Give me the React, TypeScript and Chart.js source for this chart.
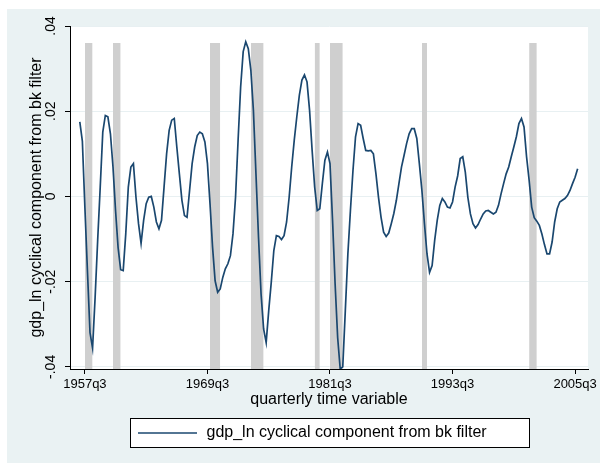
import React, { useEffect, useRef } from "react";
import { Chart, registerables } from "chart.js";

Chart.register(...registerables);

// ---------- data ----------
const startQuarter = "1957q1";

// gdp_ln cyclical component from bk filter, quarterly from 1957q1 to 2005q4
const gdpCycle = [
  0.0175, 0.013, -0.0027, -0.0176, -0.032, -0.0356, -0.0237, -0.0103, 0.0022, 0.0151,
  0.019, 0.0187, 0.0147, 0.0069, -0.0033, -0.012, -0.0172, -0.0174, -0.0088, 0.0022,
  0.0069, 0.0077, -0.0002, -0.0064, -0.011, -0.0056, -0.0017, -0.0002, 0.0, -0.0025,
  -0.006, -0.0076, -0.0056, 0.0022, 0.01, 0.0155, 0.0179, 0.0183, 0.0116, 0.0053,
  -0.0009, -0.0045, -0.0049, 0.0014, 0.0077, 0.0116, 0.0143, 0.0151, 0.0147, 0.0128,
  0.0077, -0.0017, -0.0119, -0.0198, -0.0225, -0.0217, -0.019, -0.017, -0.0158, -0.0139,
  -0.0088, -0.0002, 0.0132, 0.0257, 0.034, 0.0363, 0.0347, 0.0296, 0.0202, 0.0053,
  -0.0096, -0.0229, -0.0311, -0.0343, -0.0268, -0.0201, -0.0127, -0.0092, -0.0094, -0.0101,
  -0.0092, -0.006, -0.0002, 0.0069, 0.0132, 0.0187, 0.0238, 0.0273, 0.0285, 0.0269,
  0.0202, 0.0108, 0.0022, -0.0033, -0.0029, 0.003, 0.0085, 0.0104, 0.0077, -0.0056,
  -0.0205, -0.0331, -0.0405, -0.04, -0.0268, -0.0135, -0.0033, 0.0061, 0.014, 0.0171,
  0.0167, 0.0136, 0.0108, 0.0107, 0.0108, 0.01, 0.0053, -0.0002, -0.0049, -0.0084,
  -0.0094, -0.0086, -0.0064, -0.004, -0.0009, 0.003, 0.0069, 0.0096, 0.0124, 0.0147,
  0.0159, 0.0159, 0.0136, 0.0077, 0.0014, -0.0064, -0.0135, -0.0178, -0.0162, -0.0103,
  -0.0056, -0.0021, -0.0005, -0.0013, -0.0025, -0.0027, -0.0013, 0.0022, 0.0048, 0.0089,
  0.0093, 0.0057, -0.0002, -0.0041, -0.0064, -0.0074, -0.0066, -0.0053, -0.0041, -0.0034,
  -0.0033, -0.0037, -0.0041, -0.0037, -0.0021, 0.0006, 0.003, 0.0053, 0.0069, 0.0093,
  0.0116, 0.014, 0.0171, 0.0183, 0.0163, 0.0093, 0.0038, -0.0025, -0.005, -0.0058,
  -0.0068, -0.0088, -0.0113, -0.0135, -0.0135, -0.0107, -0.006, -0.0029, -0.0013, -0.0009,
  -0.0005, 0.0002, 0.0014, 0.003, 0.0045, 0.0065,
];

// NBER recessions (peak to trough quarter)
const recessionStarts = ["1957q3", "1960q2", "1969q4", "1973q4", "1980q1", "1981q3", "1990q3", "2001q1"];
const recessionEnds = ["1958q2", "1961q1", "1970q4", "1975q1", "1980q3", "1982q4", "1991q1", "2001q4"];
const recessionTop = 0.036;

const xTickLabels = ["1957q3", "1969q3", "1981q3", "1993q3", "2005q3"];
const xRangeQuarters = ["1956q1", "2006q4"];
const yTickValues = [0.04, 0.02, 0, -0.02, -0.04];
const yTickLabels = [".04", ".02", "0", "-.02", "-.04"];
const yMin = -0.0405;
const yMax = 0.04;

const seriesLabel = "gdp_ln cyclical component from bk filter";
const xTitle = "quarterly time variable";
const yTitle = "gdp_ln cyclical component from bk filter";

// ---------- helpers ----------
function parseQ(s: string): number {
  const [y, q] = s.split("q").map(Number);
  return (y - 1960) * 4 + (q - 1);
}

const FONT = '"Liberation Sans", Arial, Helvetica, sans-serif';
const NAVY = "#1a476f";
const BG = "rgb(234,242,243)";

export default function App() {
  const canvasRef = useRef<HTMLCanvasElement | null>(null);

  useEffect(() => {
    if (!canvasRef.current) return;
    const t0 = parseQ(startQuarter);
    const lineData = gdpCycle.map((v, i) => ({ x: t0 + i, y: v }));

    const recData: { x: number; y: number | null }[] = [];
    recessionStarts.forEach((s, i) => {
      const a = parseQ(s);
      const b = parseQ(recessionEnds[i]);
      recData.push({ x: a, y: recessionTop });
      recData.push({ x: b, y: recessionTop });
      recData.push({ x: b + 0.5, y: null });
    });

    const stylePlugin = {
      id: "stataStyle",
      beforeDraw(chart: any) {
        const { ctx, chartArea, width, height } = chart;
        ctx.save();
        ctx.fillStyle = BG;
        ctx.fillRect(0, 0, width, height);
        ctx.fillStyle = "#ffffff";
        ctx.fillRect(chartArea.left, chartArea.top, chartArea.right - chartArea.left, chartArea.bottom - chartArea.top);
        ctx.restore();
      },
      afterDraw(chart: any) {
        const { ctx, chartArea } = chart;
        const ys = chart.scales.y;
        ctx.save();
        // rotated y tick labels
        ctx.fillStyle = "#000";
        ctx.font = `14px ${FONT}`;
        ctx.textAlign = "center";
        ctx.textBaseline = "middle";
        yTickValues.forEach((v, i) => {
          const py = ys.getPixelForValue(v);
          ctx.save();
          ctx.translate(chartArea.left - 19, py);
          ctx.rotate(-Math.PI / 2);
          ctx.fillText(yTickLabels[i], 0, 0);
          ctx.restore();
        });
        // legend
        const bw = 399;
        const bh = 29;
        const cx = (chartArea.left + chartArea.right) / 2;
        const bx = Math.round(cx - bw / 2) + 0.5;
        const by = Math.round(chartArea.bottom + 49) + 0.5;
        ctx.fillStyle = "#ffffff";
        ctx.fillRect(bx, by, bw, bh);
        ctx.strokeStyle = "#000";
        ctx.lineWidth = 1;
        ctx.strokeRect(bx, by, bw, bh);
        const my = by + bh / 2;
        ctx.strokeStyle = NAVY;
        ctx.lineWidth = 1.7;
        ctx.beginPath();
        ctx.moveTo(bx + 7.5, my);
        ctx.lineTo(bx + 66.5, my);
        ctx.stroke();
        ctx.fillStyle = "#000";
        ctx.font = `16px ${FONT}`;
        ctx.textAlign = "left";
        ctx.textBaseline = "middle";
        ctx.fillText(seriesLabel, bx + 76, my);
        ctx.restore();
      },
    };

    const chart = new Chart(canvasRef.current, {
      type: "line",
      data: {
        datasets: [
          {
            label: seriesLabel,
            data: lineData,
            borderColor: NAVY,
            borderWidth: 1.7,
            pointRadius: 0,
            fill: false,
            tension: 0,
          },
          {
            label: "recessions",
            data: recData as any,
            borderWidth: 0,
            borderColor: "rgba(0,0,0,0)",
            backgroundColor: "rgb(207,207,207)",
            pointRadius: 0,
            fill: "start",
            spanGaps: false,
            tension: 0,
          },
        ],
      },
      options: {
        animation: false,
        responsive: true,
        maintainAspectRatio: false,
        events: [],
        layout: {
          autoPadding: false,
          padding: { left: 0, right: 9, top: 17, bottom: 54 },
        } as any,
        plugins: {
          legend: { display: false },
          tooltip: { enabled: false },
        },
        scales: {
          x: {
            type: "linear",
            min: parseQ(xRangeQuarters[0]) + 0.16,
            max: parseQ(xRangeQuarters[1]) + 0.06,
            border: { display: true, color: "#000", width: 1 },
            grid: { display: true, drawOnChartArea: false, drawTicks: true, tickLength: 5, tickColor: "#000" },
            ticks: {
              color: "#000",
              font: { family: FONT, size: 13 },
              padding: 3,
              maxRotation: 0,
              minRotation: 0,
              autoSkip: false,
              callback: (_v: any, i: number) => xTickLabels[i],
            },
            afterBuildTicks: (s: any) => {
              s.ticks = xTickLabels.map((l) => ({ value: parseQ(l) }));
            },
            afterFit: (s: any) => {
              s.height = 40;
            },
            title: {
              display: true,
              text: xTitle,
              color: "#000",
              font: { family: FONT, size: 16 },
              padding: { top: 0, bottom: 0 },
            },
          },
          y: {
            type: "linear",
            min: yMin,
            max: yMax,
            border: { display: true, color: "#000", width: 1 },
            grid: {
              display: true,
              drawOnChartArea: true,
              drawTicks: true,
              tickLength: 5,
              tickColor: "#000",
              color: "rgb(232,240,242)",
              lineWidth: 1,
            },
            ticks: { display: false },
            afterBuildTicks: (s: any) => {
              s.ticks = yTickValues.map((v) => ({ value: v }));
            },
            afterFit: (s: any) => {
              s.width = 63;
            },
            title: {
              display: true,
              text: yTitle,
              color: "#000",
              font: { family: FONT, size: 16 },
              padding: { top: 20, bottom: 0 },
            },
          },
        },
      } as any,
      plugins: [stylePlugin],
    });

    return () => chart.destroy();
  }, []);

  return (
    <div style={{ position: "absolute", left: 7, top: 9, width: 593, height: 454 }}>
      <canvas ref={canvasRef} />
    </div>
  );
}
